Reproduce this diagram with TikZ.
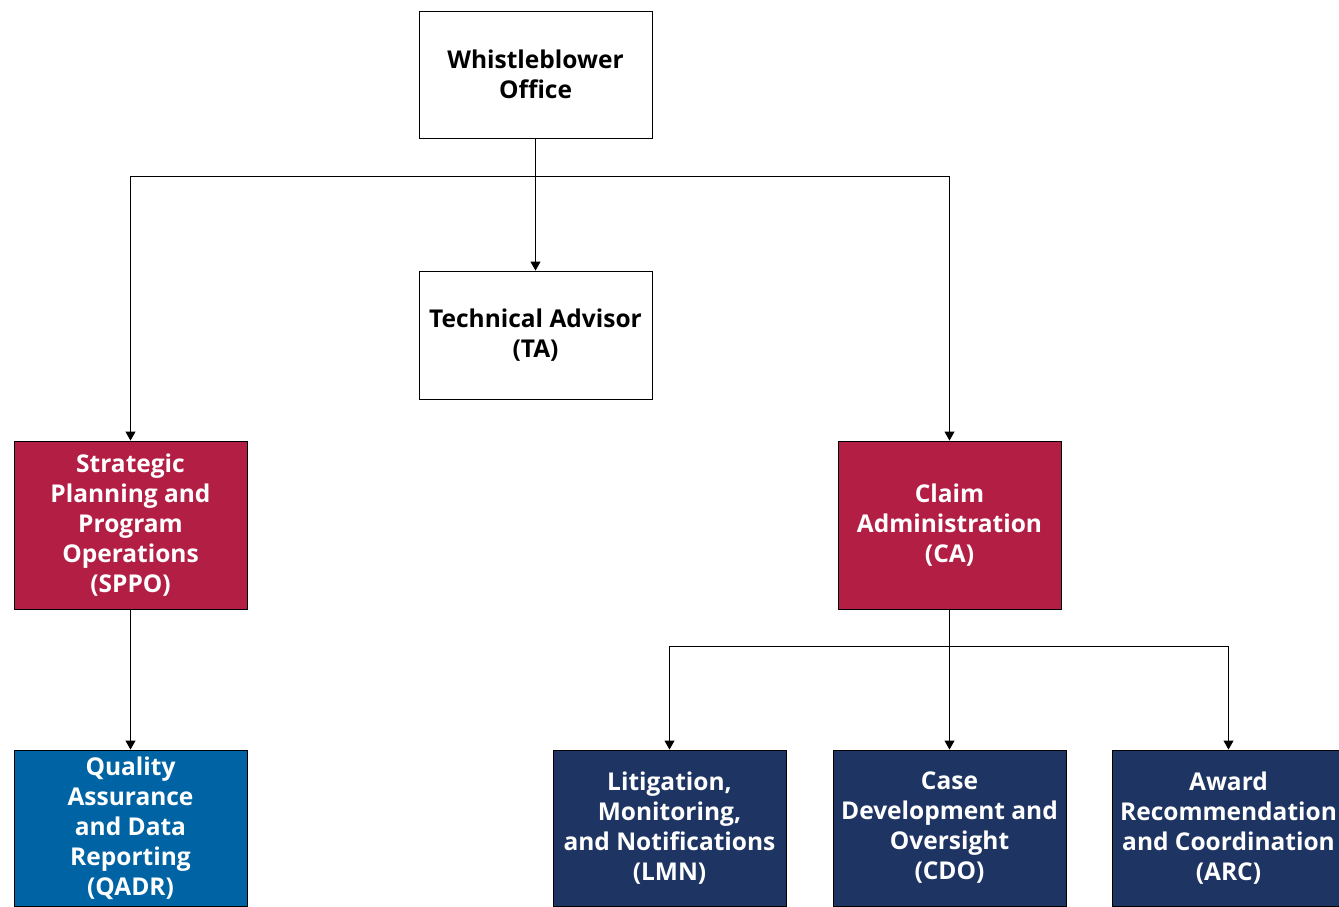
\documentclass[tikz,border=0pt]{standalone}
\usepackage{fontspec}
\setmainfont{Open Sans}
\usetikzlibrary{arrows.meta}
\definecolor{cared}{RGB}{179,31,68}
\definecolor{qablue}{RGB}{0,100,164}
\definecolor{navy}{RGB}{30,52,98}
\tikzset{
  box/.style={draw=black, line width=0.9pt, minimum width=233pt, align=center,
    font=\fontsize{24.5}{30}\selectfont\bfseries, inner sep=0pt},
  whitebox/.style={box, fill=white, text=black, minimum height=127pt},
  redbox/.style={box, fill=cared, text=white, minimum height=168pt},
  bluebox/.style={box, fill=qablue, text=white, minimum height=156pt},
  navybox/.style={box, fill=navy, text=white, minimum height=156pt},
  conn/.style={draw=black, line width=0.9pt, -{Triangle[length=9pt,width=10pt]}},
  line/.style={draw=black, line width=0.9pt}
}
\begin{document}
\begin{tikzpicture}[x=1pt,y=-1pt]
\useasboundingbox (0,0) rectangle (1339,907);
\clip (0,0) rectangle (1339,907);
\node[whitebox] (wo) at (535.5,74.5) {Whistleblower\\Office};
\node[whitebox, minimum height=128pt] (ta) at (535.5,335) {Technical Advisor\\(TA)};
\node[redbox] (sppo) at (130.5,525) {Strategic\\Planning and\\Program\\Operations\\(SPPO)};
\node[redbox, minimum width=223pt] (ca) at (949.5,525) {Claim\\Administration\\(CA)};
\node[bluebox] (qadr) at (130.5,828) {Quality\\Assurance\\and Data\\Reporting\\(QADR)};
\node[navybox] (lmn) at (669.5,828) {Litigation,\\Monitoring,\\and Notifications\\(LMN)};
\node[navybox] (cdo) at (949.5,828) {Case\\Development and\\Oversight\\(CDO)};
\node[navybox] (arc) at (1228.5,828) {Award\\Recommendation\\and Coordination\\(ARC)};
\coordinate (j1) at (535.5,176);
\coordinate (j2) at (949.5,646);
\draw[conn] (wo.south) -- (ta.north);
\draw[conn] (j1) -| (sppo.north);
\draw[conn] (j1) -| (ca.north);
\draw[conn] (sppo.south) -- (qadr.north);
\draw[line] (ca.south) -- (j2);
\draw[conn] (j2) -| (lmn.north);
\draw[conn] (j2) -- (cdo.north);
\draw[conn] (j2) -| (arc.north);
\end{tikzpicture}
\end{document}
